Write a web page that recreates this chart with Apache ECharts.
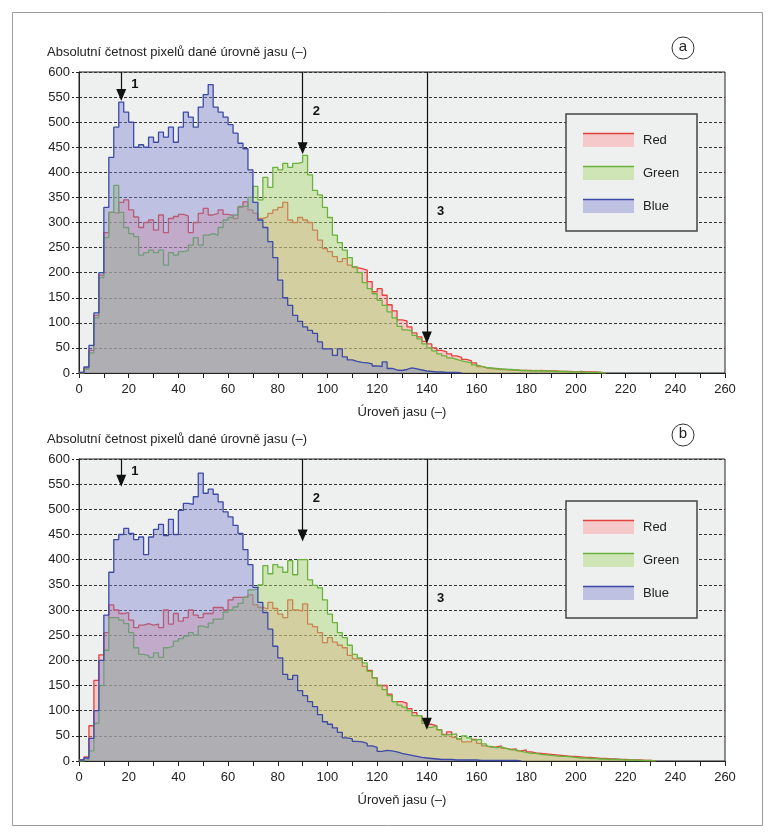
<!DOCTYPE html>
<html>
<head>
<meta charset="utf-8">
<script src="https://cdn.jsdelivr.net/npm/echarts@6/dist/echarts.min.js"></script>
<style>
html, body { margin: 0; padding: 0; background: #fff; }
#chart { width: 771px; height: 834px; }
</style>
</head>
<body>
<div id="chart"></div>
<script>
/* šířka třídy histogramu (úrovně jasu) */
const BIN = 2;
const channelNames = ['Red', 'Green', 'Blue'];
const panelLetters = ['a', 'b'];
const yTitle = 'Absolutní četnost pixelů dané úrovně jasu (–)';
const xTitle = 'Úroveň jasu (–)';

/* šipky: úroveň jasu, kam ukazují, a výška popisku */
const arrowLevels = [17, 90, 140];
const arrowLabels = ['1', '2', '3'];
const arrowTipsA = [542, 436, 59];
const arrowTipsB = [545, 436, 62];
const arrowLabelY = [575, 522, 323];

/* (a) četnosti po třídách 0-2, 2-4, ... */
const redA = [1, 10, 45, 115, 195, 280, 320, 318, 340, 345, 325, 311, 290, 300, 305, 285, 315, 280, 308, 312,
	316, 313, 280, 300, 318, 328, 315, 318, 325, 316, 314, 308, 330, 341, 325, 318, 308, 311, 318, 325,
	330, 340, 305, 300, 310, 305, 300, 285, 265, 248, 242, 232, 222, 228, 215, 210, 208, 205, 182, 162,
	168, 155, 136, 124, 106, 104, 92, 80, 72, 63, 58, 50, 45, 42, 38, 34, 31, 27, 24, 20,
	13, 10, 9, 8, 7, 7, 6, 6, 5, 5, 5, 4, 5, 4, 4, 4, 3, 3, 3, 2,
	3, 2, 2, 2, 1, 0];
const greenA = [0, 8, 40, 110, 190, 270, 320, 374, 320, 290, 278, 272, 235, 240, 245, 240, 245, 215, 240, 235,
	242, 244, 255, 270, 255, 275, 278, 275, 290, 305, 310, 315, 332, 332, 350, 372, 345, 390, 370, 410,
	405, 418, 410, 418, 420, 434, 395, 364, 355, 330, 310, 275, 260, 245, 230, 212, 200, 180, 168, 158,
	145, 135, 122, 110, 93, 86, 84, 75, 68, 58, 50, 44, 38, 34, 30, 27, 24, 22, 20, 16,
	13, 11, 10, 9, 8, 7, 7, 6, 5, 5, 4, 5, 4, 4, 4, 3, 3, 3, 2, 2,
	2, 1, 1, 1, 1, 0];
const blueA = [1, 12, 55, 120, 200, 330, 430, 490, 540, 520, 500, 450, 455, 450, 470, 460, 480, 470, 490, 460,
	490, 520, 510, 490, 530, 555, 575, 530, 520, 510, 495, 478, 458, 447, 405, 340, 305, 290, 262, 230,
	185, 150, 135, 115, 103, 92, 85, 79, 62, 48, 48, 35, 48, 32, 26, 23, 21, 20, 18, 14,
	13, 22, 9, 6, 5, 7, 10, 8, 6, 4, 3, 2, 2, 1, 1, 1, 0];

/* (b) */
const redB = [2, 8, 70, 160, 211, 255, 310, 300, 293, 295, 280, 265, 270, 273, 270, 272, 265, 300, 272, 293,
	278, 285, 300, 290, 285, 293, 293, 305, 305, 300, 320, 325, 325, 326, 330, 310, 305, 302, 315, 303,
	292, 285, 320, 300, 298, 312, 272, 267, 255, 235, 245, 236, 230, 225, 210, 203, 203, 188, 180, 165,
	150, 150, 133, 118, 118, 115, 104, 96, 90, 80, 73, 70, 62, 53, 58, 47, 43, 38, 38, 43,
	35, 30, 27, 28, 30, 25, 23, 24, 20, 22, 18, 16, 15, 14, 13, 12, 11, 10, 9, 9,
	8, 7, 7, 6, 5, 5, 4, 4, 3, 3, 2, 2, 2, 1, 1, 0];
const greenB = [0, 3, 20, 75, 150, 220, 285, 285, 280, 273, 255, 225, 212, 210, 206, 215, 206, 225, 228, 238,
	243, 248, 255, 250, 268, 265, 274, 282, 282, 296, 300, 306, 313, 325, 340, 342, 350, 388, 372, 390,
	385, 375, 398, 370, 400, 400, 360, 349, 344, 320, 292, 275, 255, 245, 230, 212, 205, 195, 178, 165,
	150, 142, 130, 118, 111, 107, 100, 90, 90, 75, 67, 70, 62, 52, 53, 54, 44, 50, 46, 42,
	43, 34, 29, 26, 28, 25, 22, 22, 19, 17, 15, 15, 13, 12, 11, 10, 9, 9, 8, 7,
	6, 6, 5, 5, 4, 4, 3, 3, 3, 2, 2, 2, 1, 1, 1, 0];
const blueB = [2, 6, 45, 100, 200, 290, 375, 440, 450, 462, 452, 440, 445, 410, 445, 460, 470, 448, 480, 450,
	498, 512, 510, 525, 572, 532, 540, 530, 515, 495, 485, 468, 452, 420, 390, 345, 315, 295, 262, 228,
	205, 172, 162, 170, 140, 130, 118, 108, 92, 78, 73, 66, 57, 46, 44, 39, 38, 35, 30, 27,
	19, 21, 20, 18, 15, 13, 11, 9, 7, 6, 5, 4, 3, 3, 3, 2, 2, 2, 2, 2,
	1, 1, 1, 1, 1, 1, 1, 1, 0];

const panels = [[redA, greenA, blueA], [redB, greenB, blueB]];
const arrowTips = [arrowTipsA, arrowTipsB];

const FONT = "'Liberation Sans', Arial, sans-serif";
const lineColors = ['#e2413c', '#69b23c', '#3c4aa6'];
const fillColors = ['rgba(255,140,146,0.40)', 'rgba(170,215,110,0.45)', 'rgba(125,128,205,0.42)'];
const plotBg = '#eef0ef';
const gridTops = [72, 459];
const gridHeights = [301, 302];
/* půl výšky hrotu šipky v jednotkách osy y */
const TIP_HALF = 12;

const toPoints = values => values.map((v, i) => [i * BIN, v]).concat([[values.length * BIN, 0]]);

const chart = echarts.init(document.getElementById('chart'));

const grid = [], xAxis = [], yAxis = [], series = [], legend = [], title = [], graphic = [];

panels.forEach((channels, p) => {
	const top = gridTops[p];
	grid.push({
		left: 79, right: 46, top, height: gridHeights[p],
		show: true, backgroundColor: plotBg, borderColor: '#222', borderWidth: 1
	});
	xAxis.push({
		type: 'value', gridIndex: p, min: 0, max: 260, interval: 20,
		name: xTitle, nameLocation: 'middle', nameGap: 33,
		nameTextStyle: { fontFamily: FONT, fontSize: 13, color: '#222' },
		axisLine: { lineStyle: { color: '#222', width: 1 } },
		axisTick: { show: true, length: 5, lineStyle: { color: '#222' } },
		minorTick: { show: true, splitNumber: 2, length: 5, lineStyle: { color: '#222' } },
		axisLabel: { fontFamily: FONT, fontSize: 13, color: '#222', margin: 10 },
		splitLine: { show: false }
	});
	yAxis.push({
		type: 'value', gridIndex: p, min: 0, max: 600, interval: 50,
		axisLine: { show: true, lineStyle: { color: '#222', width: 1 } },
		axisTick: { show: true, length: 7, lineStyle: { color: '#222', type: [3, 2] } },
		axisLabel: { fontFamily: FONT, fontSize: 13, color: '#222', margin: 9 },
		splitLine: { show: true, lineStyle: { color: '#333', width: 1, type: [3, 2] } }
	});
	channels.forEach((values, c) => {
		series.push({
			name: channelNames[c], type: 'line', step: 'end',
			xAxisIndex: p, yAxisIndex: p,
			data: toPoints(values),
			symbol: 'none', showSymbol: false,
			lineStyle: { color: lineColors[c], width: 1.3 },
			itemStyle: { color: lineColors[c] },
			areaStyle: { color: fillColors[c], opacity: 1 },
			z: 2 + c,
			animation: false
		});
	});
	/* šipky a čísla */
	series.push({
		name: 'arrows' + p, type: 'line', xAxisIndex: p, yAxisIndex: p, data: [],
		z: 8, animation: false,
		markLine: {
			silent: true, animation: false,
			symbol: ['none', 'triangle'], symbolSize: [10, 12],
			lineStyle: { color: '#111', width: 1.2, type: 'solid' },
			label: { show: false },
			data: arrowLevels.map((lv, i) => [{ coord: [lv, 600] }, { coord: [lv, arrowTips[p][i] + TIP_HALF] }])
		},
		markPoint: {
			silent: true, animation: false, symbol: 'circle', symbolSize: 0,
			label: { show: true, formatter: '{b}', fontFamily: FONT, fontSize: 13, fontWeight: 'bold', color: '#111' },
			data: arrowLevels.map((lv, i) => ({ name: arrowLabels[i], coord: [lv + 5.5, arrowLabelY[i]] }))
		}
	});
	title.push({
		text: yTitle, left: 47, top: top - 26, padding: 0,
		textStyle: { fontFamily: FONT, fontSize: 13, fontWeight: 'normal', color: '#222' }
	});
	legend.push({
		left: 583, top: top + 61, orient: 'vertical', selectedMode: false, padding: 0,
		itemWidth: 51, itemHeight: 14, itemGap: 19, z: 10,
		icon: 'rect',
		lineStyle: { opacity: 0 },
		textStyle: { fontFamily: FONT, fontSize: 13, color: '#222', padding: [0, 0, 0, 4] },
		data: channelNames.map((n, c) => ({ name: n, itemStyle: { color: fillColors[c], borderWidth: 0 } }))
	});
	graphic.push({
		type: 'rect', z: 9,
		shape: { x: 566, y: top + 42, width: 131, height: 117 },
		style: { fill: plotBg, stroke: '#444', lineWidth: 1.5 }
	});
	channelNames.forEach((n, c) => {
		graphic.push({
			type: 'line', z: 11,
			shape: { x1: 583, y1: top + 61.5 + c * 33, x2: 634, y2: top + 61.5 + c * 33 },
			style: { stroke: lineColors[c], lineWidth: 1.5 }
		});
	});
	graphic.push({
		type: 'circle', z: 9,
		shape: { cx: 683, cy: top - 24, r: 11 },
		style: { fill: '#fff', stroke: '#333', lineWidth: 1 }
	});
	graphic.push({
		type: 'text', z: 10, x: 683, y: top - 25,
		style: { text: panelLetters[p], font: '15px ' + FONT, fill: '#222', align: 'center', verticalAlign: 'middle' }
	});
});

/* rámeček obrázku */
graphic.push({
	type: 'rect', z: 1,
	shape: { x: 12.5, y: 12.5, width: 750, height: 813 },
	style: { fill: 'none', stroke: '#9a9a9a', lineWidth: 1 }
});

chart.setOption({
	animation: false,
	backgroundColor: '#fff',
	title, grid, xAxis, yAxis, legend, graphic, series
});
</script>
</body>
</html>
